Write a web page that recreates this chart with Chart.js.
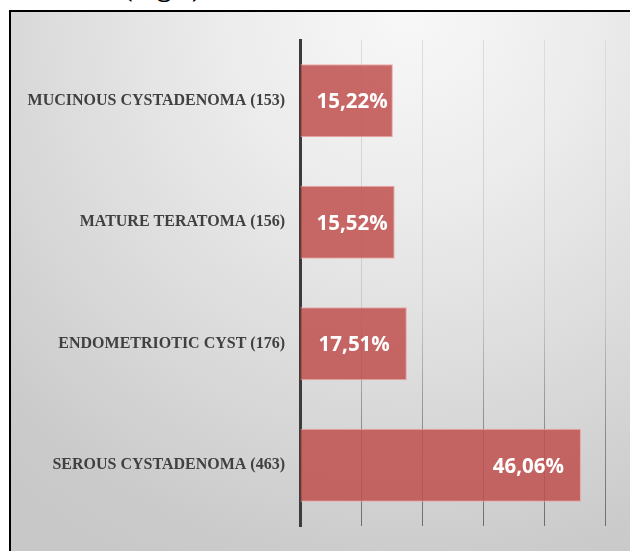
<!DOCTYPE html>
<html>
<head>
<meta charset="utf-8">
<script src="https://cdn.jsdelivr.net/npm/chart.js@4.4.1/dist/chart.umd.min.js"></script>
<style>
  html, body { margin: 0; padding: 0; width: 630px; height: 551px; overflow: hidden; background: #fff; }
  #fig { position: absolute; left: 123px; top: -29px; font: bold 28px "Liberation Serif", serif; color: #000; line-height: 32px; white-space: nowrap; }
  #box {
    position: absolute; left: 9px; top: 10px; width: 640px; height: 560px;
    border-left: 2px solid #000; border-top: 2px solid #000;
    background: radial-gradient(ellipse 95% 110% at 62% 0%, #f8f8f8 0%, #ececec 30%, #d9d9d9 65%, #cbcbcb 90%, #c8c8c8 100%);
  }
  #wrap { position: absolute; left: 0; top: 0; width: 630px; height: 551px; }
</style>
</head>
<body>
<div id="fig">(Fig.1)</div>
<div id="box"></div>
<div id="wrap"><canvas id="chart" width="630" height="551"></canvas></div>
<script>
// kategoriler yukaridan asagiya
var categories = ['MUCINOUS CYSTADENOMA (153)', 'MATURE TERATOMA (156)', 'ENDOMETRIOTIC CYST (176)', 'SEROUS CYSTADENOMA (463)'];
var percents = [15.22, 15.52, 17.51, 46.06];
var axisMin = 0;
var axisMax = 50;
var axisStep = 10;

function pctText(v) {
    return v.toFixed(2).replace('.', ',') + '%';
}

// grid cizgileri asagi dogru koyulasiyor
function gridColor(context) {
    var chart = context.chart;
    var area = chart.chartArea;
    if (!area) return '#d0d0d0';
    var g = chart.ctx.createLinearGradient(0, area.top, 0, area.bottom);
    g.addColorStop(0, '#dcdcdc');
    g.addColorStop(0.55, '#cacaca');
    g.addColorStop(0.8, '#8c8c8c');
    g.addColorStop(1, '#6e6e6e');
    return g;
}

var valueLabels = {
    id: 'valueLabels',
    afterDatasetsDraw: function(chart) {
        var ctx = chart.ctx;
        var meta = chart.getDatasetMeta(0);
        ctx.save();
        ctx.font = 'bold 20.5px "Open Sans", sans-serif';
        ctx.fillStyle = '#ffffff';
        ctx.textAlign = 'right';
        ctx.textBaseline = 'alphabetic';
        meta.data.forEach(function(bar, i) {
            var txt = pctText(percents[i]);
            var w = ctx.measureText(txt).width;
            var x = Math.max(bar.x - 17, bar.base + 16 + w);
            ctx.fillText(txt, x, bar.y + 7.5);
        });
        ctx.restore();
    }
};

var ctx = document.getElementById('chart').getContext('2d');
var chart = new Chart(ctx, {
    type: 'bar',
    data: {
        labels: categories,
        datasets: [{
            data: percents,
            backgroundColor: 'rgba(192, 80, 77, 0.85)',
            borderColor: 'rgba(238, 168, 166, 1)',
            borderWidth: 1,
            barPercentage: 0.6,
            categoryPercentage: 1.0
        }]
    },
    options: {
        indexAxis: 'y',
        responsive: false,
        animation: false,
        layout: { padding: { left: 0, top: 40, right: 25, bottom: 25 } },
        plugins: {
            legend: { display: false },
            tooltip: { enabled: false }
        },
        scales: {
            x: {
                min: axisMin,
                max: axisMax,
                ticks: { display: false, stepSize: axisStep },
                grid: { color: gridColor, lineWidth: 1, drawTicks: false },
                border: { display: false },
                afterFit: function(scale) { scale.height = 0; }
            },
            y: {
                ticks: {
                    color: '#404040',
                    font: { family: '"Liberation Serif", serif', size: 16, weight: 'bold' },
                    padding: 15
                },
                grid: { display: false, drawTicks: false },
                border: { display: true, color: '#3c3c3c', width: 3 },
                afterFit: function(scale) { scale.width = 300; }
            }
        }
    },
    plugins: [valueLabels]
});
</script>
</body>
</html>
